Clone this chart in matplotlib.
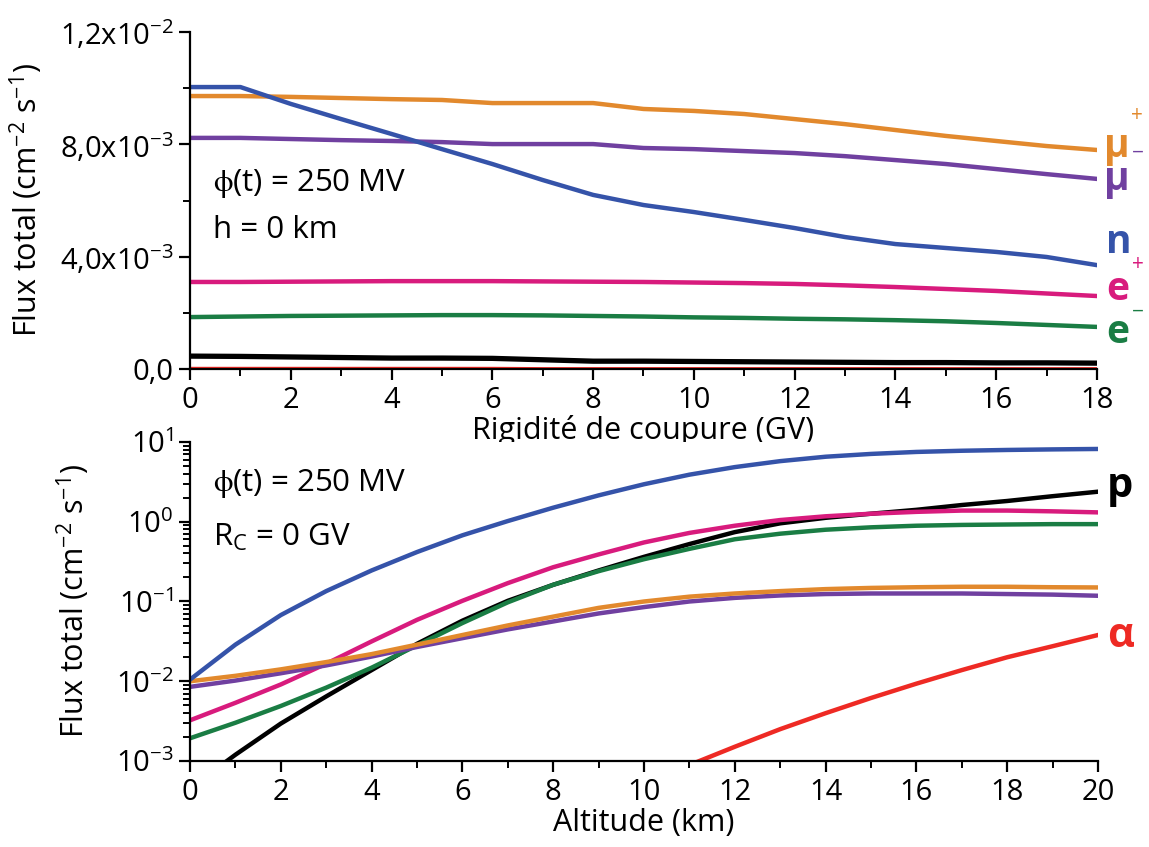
"""Flux total vs rigidité de coupure et altitude"""
import matplotlib
matplotlib.use('Agg')
import matplotlib.pyplot as plt
from matplotlib.ticker import MultipleLocator, FixedLocator, FixedFormatter, LogLocator, NullFormatter

plt.rcParams['font.family'] = ['Open Sans', 'DejaVu Sans']
plt.rcParams['mathtext.fontset'] = 'custom'
plt.rcParams['mathtext.rm'] = 'Open Sans'
plt.rcParams['mathtext.it'] = 'Open Sans:italic'
plt.rcParams['mathtext.bf'] = 'Open Sans:bold'
plt.rcParams['mathtext.default'] = 'regular'

# --- panneau du haut : flux vs rigidité (h = 0 km)
rigidite = [0, 1, 2, 3, 4, 5, 6, 7, 8, 9, 10, 11, 12, 13, 14, 15, 16, 17, 18]
n_rig = [0.01004, 0.01004, 0.00944, 0.00890, 0.00837, 0.00783, 0.00730, 0.00673, 0.00620, 0.00584,
         0.00559, 0.00531, 0.00502, 0.00470, 0.00445, 0.00431, 0.00417, 0.00399, 0.00370]
mup_rig = [0.00972, 0.00972, 0.00969, 0.00965, 0.00961, 0.00958, 0.00947, 0.00947, 0.00947, 0.00926,
           0.00919, 0.00908, 0.00890, 0.00872, 0.00851, 0.00830, 0.00812, 0.00794, 0.00780]
mum_rig = [0.00823, 0.00823, 0.00819, 0.00815, 0.00812, 0.00808, 0.00801, 0.00801, 0.00801, 0.00787,
           0.00783, 0.00776, 0.00769, 0.00758, 0.00744, 0.00730, 0.00712, 0.00694, 0.00677]
ep_rig = [0.00310, 0.00310, 0.00311, 0.00312, 0.00313, 0.00313, 0.00313, 0.00312, 0.00311, 0.00310,
          0.00308, 0.00306, 0.00303, 0.00298, 0.00292, 0.00285, 0.00278, 0.00269, 0.00260]
em_rig = [0.00185, 0.00187, 0.00189, 0.00190, 0.00191, 0.00192, 0.00192, 0.00191, 0.00189, 0.00187,
          0.00184, 0.00182, 0.00179, 0.00177, 0.00174, 0.00170, 0.00164, 0.00157, 0.00150]
p_rig = [0.00046, 0.00045, 0.00043, 0.00041, 0.00039, 0.00039, 0.00038, 0.00033, 0.00028, 0.00028,
         0.00027, 0.00026, 0.00025, 0.00024, 0.00023, 0.00023, 0.00022, 0.00022, 0.00021]
a_rig = [0.00003, 0.00003, 0.00003, 0.00003, 0.00003, 0.00003, 0.00003, 0.00002, 0.00002, 0.00002,
         0.00002, 0.00002, 0.00002, 0.00002, 0.00002, 0.00002, 0.00002, 0.00002, 0.00002]

# --- panneau du bas : flux vs altitude (Rc = 0 GV)
altitude = [0, 1, 2, 3, 4, 5, 6, 7, 8, 9, 10, 11, 12, 13, 14, 15, 16, 17, 18, 19, 20]
n_alt = [0.0105, 0.0288, 0.0676, 0.135, 0.245, 0.417, 0.676, 1.02, 1.50, 2.14, 2.95,
         3.89, 4.84, 5.75, 6.53, 7.08, 7.50, 7.76, 7.94, 8.07, 8.17]
mup_alt = [0.0100, 0.0117, 0.0141, 0.0174, 0.0219, 0.0288, 0.0380, 0.0501, 0.0646, 0.0832, 0.100,
           0.115, 0.126, 0.135, 0.143, 0.148, 0.151, 0.153, 0.153, 0.151, 0.150]
mum_alt = [0.00851, 0.0102, 0.0126, 0.0158, 0.0204, 0.0269, 0.0347, 0.0447, 0.0562, 0.0708, 0.0851,
           0.100, 0.111, 0.119, 0.124, 0.126, 0.126, 0.126, 0.124, 0.122, 0.118]
ep_alt = [0.00324, 0.00537, 0.00912, 0.0166, 0.0316, 0.0589, 0.102, 0.170, 0.269, 0.389, 0.550,
          0.724, 0.891, 1.05, 1.17, 1.26, 1.33, 1.38, 1.38, 1.35, 1.31]
em_alt = [0.00193, 0.00302, 0.00490, 0.00832, 0.0148, 0.0282, 0.0537, 0.0977, 0.162, 0.240, 0.339,
          0.457, 0.603, 0.708, 0.794, 0.851, 0.891, 0.912, 0.923, 0.933, 0.933]
p_alt = [0.000457, 0.00120, 0.00295, 0.00646, 0.0138, 0.0295, 0.0575, 0.102, 0.162, 0.245, 0.363,
         0.525, 0.741, 0.955, 1.12, 1.26, 1.41, 1.62, 1.82, 2.09, 2.38]
altitude_a = [10, 11, 12, 13, 14, 15, 16, 17, 18, 19, 20]
a_alt = [0.000501, 0.000891, 0.00151, 0.00251, 0.00398, 0.00617, 0.00933, 0.0138, 0.0200, 0.0275, 0.0380]

top_yticks = [0, 0.004, 0.008, 0.012]
top_ylabels = ['0,0', r'4,0x10$^{-3}$', r'8,0x10$^{-3}$', r'1,2x10$^{-2}$']

C_N = '#3553a9'
C_MUP = '#e2892d'
C_MUM = '#7040a0'
C_EP = '#d81b7d'
C_EM = '#1a7d44'
C_P = '#000000'
C_A = '#ee2a24'

FS = 21      # ticks
FL = 22      # titres d'axes
FA = 22.5    # annotations
LW = 3.2

fig = plt.figure(figsize=(11.49, 8.47), dpi=100)
ax1 = fig.add_axes([0.1654, 0.5643, 0.7893, 0.3979])
ax2 = fig.add_axes([0.1654, 0.1015, 0.7902, 0.3767])


def style_axes(ax):
    for s in ['top', 'right']:
        ax.spines[s].set_visible(False)
    for s in ['left', 'bottom']:
        ax.spines[s].set_linewidth(1.6)
    ax.tick_params(which='major', direction='out', length=8, width=1.6, labelsize=FS, pad=4)
    ax.tick_params(which='minor', direction='out', length=5, width=1.4)


# Haut
ax1.plot(rigidite, a_rig, color=C_A, lw=2)
ax1.plot(rigidite, p_rig, color=C_P, lw=LW + 0.6)
ax1.plot(rigidite, em_rig, color=C_EM, lw=LW)
ax1.plot(rigidite, ep_rig, color=C_EP, lw=LW)
ax1.plot(rigidite, mum_rig, color=C_MUM, lw=LW)
ax1.plot(rigidite, mup_rig, color=C_MUP, lw=LW)
ax1.plot(rigidite, n_rig, color=C_N, lw=LW)
ax1.set_xlim(0, 18)
ax1.set_ylim(0, 0.012)
style_axes(ax1)
ax1.xaxis.set_major_locator(MultipleLocator(2))
ax1.xaxis.set_minor_locator(MultipleLocator(1))
ax1.yaxis.set_major_locator(FixedLocator(top_yticks))
ax1.yaxis.set_major_formatter(FixedFormatter(top_ylabels))
ax1.yaxis.set_minor_locator(MultipleLocator(0.002))
ax1.set_xlabel('Rigidité de coupure (GV)', fontsize=FL, labelpad=0)
ax1.set_ylabel(r'Flux total (cm$^{-2}$ s$^{-1}$)', fontsize=FL)
ax1.yaxis.set_label_coords(-0.160, 0.5)

ax1.text(0.025, 0.552, r'$\phi$(t) = 250 MV', transform=ax1.transAxes, fontsize=FA, va='center')
ax1.text(0.025, 0.412, 'h = 0 km', transform=ax1.transAxes, fontsize=FA, va='center')

lab = dict(transform=ax1.transAxes, fontsize=28, fontweight='bold', clip_on=False, va='baseline')
sup = dict(transform=ax1.transAxes, fontsize=15, clip_on=False, va='center')
ax1.text(1.008, 0.629, 'μ', color=C_MUP, **lab)
ax1.text(1.037, 0.752, '+', color=C_MUP, **sup)
ax1.text(1.008, 0.531, 'μ', color=C_MUM, **lab)
ax1.text(1.039, 0.640, '−', color=C_MUM, **sup)
ax1.text(1.010, 0.344, 'n', color=C_N, **lab)
ax1.text(1.010, 0.205, 'e', color=C_EP, **lab)
ax1.text(1.039, 0.309, '+', color=C_EP, **sup)
ax1.text(1.010, 0.077, 'e', color=C_EM, **lab)
ax1.text(1.039, 0.169, '−', color=C_EM, **sup)

# Bas
ax2.plot(altitude_a, a_alt, color=C_A, lw=LW)
ax2.plot(altitude, p_alt, color=C_P, lw=LW)
ax2.plot(altitude, em_alt, color=C_EM, lw=LW)
ax2.plot(altitude, ep_alt, color=C_EP, lw=LW)
ax2.plot(altitude, mum_alt, color=C_MUM, lw=LW)
ax2.plot(altitude, mup_alt, color=C_MUP, lw=LW)
ax2.plot(altitude, n_alt, color=C_N, lw=LW)
ax2.set_yscale('log')
ax2.set_xlim(0, 20)
ax2.set_ylim(1e-3, 10)
style_axes(ax2)
ax2.xaxis.set_major_locator(MultipleLocator(2))
ax2.xaxis.set_minor_locator(MultipleLocator(1))
ax2.yaxis.set_major_locator(LogLocator(base=10, numticks=10))
ax2.yaxis.set_minor_locator(LogLocator(base=10, subs=range(2, 10), numticks=20))
ax2.yaxis.set_minor_formatter(NullFormatter())
ax2.set_xlabel('Altitude (km)', fontsize=FL, labelpad=1)
ax2.set_ylabel(r'Flux total (cm$^{-2}$ s$^{-1}$)', fontsize=FL)
ax2.yaxis.set_label_coords(-0.108, 0.5)

ax2.text(0.025, 0.871, r'$\phi$(t) = 250 MV', transform=ax2.transAxes, fontsize=FA, va='center')
ax2.text(0.025, 0.702, r'R$_C$ = 0 GV', transform=ax2.transAxes, fontsize=FA, va='center')

lab2 = dict(transform=ax2.transAxes, fontsize=30, fontweight='bold', clip_on=False, va='baseline')
ax2.text(1.010, 0.828, 'p', color=C_P, **lab2)
ax2.text(1.010, 0.357, 'α', color=C_A, **lab2)

plt.savefig('out.png', dpi=100)
plt.close()
